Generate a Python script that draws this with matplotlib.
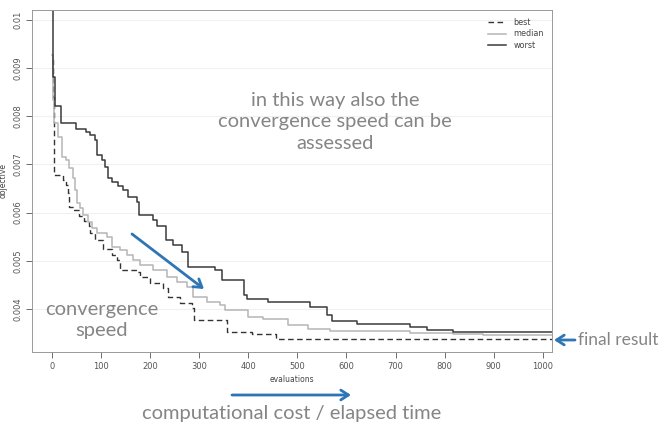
import numpy as np
import matplotlib
matplotlib.use("Agg")
import matplotlib.pyplot as plt
from matplotlib.patches import FancyArrowPatch

# step curves (evaluations, objective)
worst_x = [0, 2, 5, 18, 49, 69, 77, 88, 92, 102, 108, 114, 122, 135, 145, 155, 173, 177,
           206, 214, 232, 247, 265, 277, 332, 346, 391, 397, 440, 526, 561, 571, 622,
           730, 765, 818, 1019]
worst_y = [0.0105, 0.00881, 0.00821, 0.00786, 0.00773, 0.00767, 0.00761, 0.00751, 0.00720,
           0.00709, 0.00695, 0.00672, 0.00664, 0.00655, 0.00647, 0.00632, 0.00622, 0.00595,
           0.00585, 0.00572, 0.00543, 0.00533, 0.00518, 0.00487, 0.00481, 0.00460, 0.00429,
           0.00421, 0.00415, 0.00404, 0.00388, 0.00375, 0.00369, 0.00363, 0.00356, 0.00352,
           0.00352]

median_x = [0, 2, 4, 12, 20, 29, 35, 43, 47, 51, 57, 63, 73, 82, 92, 112, 122, 139, 153,
            165, 179, 206, 234, 255, 275, 287, 316, 342, 352, 399, 430, 481, 522, 567, 730,
            818, 879, 1019]
median_y = [0.00927, 0.00834, 0.00786, 0.00757, 0.00715, 0.00709, 0.00693, 0.00672, 0.00647,
            0.00620, 0.00610, 0.00595, 0.00581, 0.00568, 0.00558, 0.00549, 0.00529, 0.00522,
            0.00512, 0.00502, 0.00491, 0.00481, 0.00466, 0.00456, 0.00446, 0.00425, 0.00415,
            0.00408, 0.00398, 0.00383, 0.00379, 0.00367, 0.00359, 0.00354, 0.00350, 0.00348,
            0.00346, 0.00346]

best_x = [0, 2, 4, 22, 29, 33, 35, 43, 55, 65, 75, 77, 88, 104, 122, 133, 139, 173, 179,
          200, 226, 236, 261, 285, 289, 357, 408, 457, 1019]
best_y = [0.00917, 0.00840, 0.00678, 0.00668, 0.00657, 0.00641, 0.00612, 0.00605, 0.00593,
          0.00583, 0.00572, 0.00558, 0.00543, 0.00524, 0.00512, 0.00502, 0.00481, 0.00477,
          0.00466, 0.00454, 0.00444, 0.00425, 0.00412, 0.00402, 0.00377, 0.00352, 0.00348,
          0.00338, 0.00338]

x_ticks = [0, 100, 200, 300, 400, 500, 600, 700, 800, 900, 1000]
y_ticks = [0.004, 0.005, 0.006, 0.007, 0.008, 0.009, 0.01]
y_ticklabels = ["0.004", "0.005", "0.006", "0.007", "0.008", "0.009", "0.01"]

W, H = 659, 429
blue = "#2E75B6"
note_grey = "#858585"


def fx(px):
    return px / W


def fy(py):
    return 1 - py / H


fig = plt.figure(figsize=(W / 100, H / 100), dpi=100)
ax = fig.add_axes([fx(32), fy(352), fx(552) - fx(32), fy(10) - fy(352)])

for y in y_ticks:
    ax.axhline(y, color="#f0f0f0", lw=0.8, zorder=0)

ax.plot(best_x, best_y, drawstyle="steps-post", color="#333333", lw=1.0,
        ls=(0, (4, 2.5)), label="best")
ax.plot(median_x, median_y, drawstyle="steps-post", color="#b5b5b5", lw=1.1, label="median")
ax.plot(worst_x, worst_y, drawstyle="steps-post", color="#3a3a3a", lw=1.1, label="worst")

ax.set_xlim(-41, 1019)
ax.set_ylim(0.003108, 0.010203)
ax.set_xticks(x_ticks)
ax.set_xticklabels([str(v) for v in x_ticks])
ax.set_yticks(y_ticks)
ax.set_yticklabels(y_ticklabels, rotation=90, va="center")
ax.tick_params(labelsize=6, colors="#555555", length=4, width=0.6, pad=3)
for s in ax.spines.values():
    s.set_color("#999999")
    s.set_linewidth(0.7)

ax.set_xlabel("evaluations", fontsize=5.5, color="#444444", labelpad=3)
ax.set_ylabel("objective", fontsize=5.5, color="#444444")
ax.yaxis.set_label_coords(-0.046, 0.5)

leg = ax.legend(loc="upper right", frameon=False, fontsize=5.8, handlelength=2.3,
                labelspacing=0.3, borderaxespad=0.6, handletextpad=0.9)
for t in leg.get_texts():
    t.set_color("#444444")

# slide annotations
font = "Lato"
fs = 14.5
fig.text(fx(335), fy(122), "in this way also the\nconvergence speed can be\nassessed",
         ha="center", va="center", fontsize=fs, color=note_grey, family=font,
         linespacing=1.3)
fig.text(fx(102), fy(320), "convergence\nspeed", ha="center", va="center",
         fontsize=fs, color=note_grey, family=font, linespacing=1.25)
fig.text(fx(578), fy(340), "final result", ha="left", va="center",
         fontsize=12.5, color=note_grey, family=font)
fig.text(fx(292), fy(413), "computational cost / elapsed time", ha="center", va="center",
         fontsize=fs, color=note_grey, family=font)

arrow = dict(arrowstyle="->,head_length=0.5,head_width=0.32", color=blue, lw=2,
             mutation_scale=11, shrinkA=0, shrinkB=0, transform=fig.transFigure)
fig.add_artist(FancyArrowPatch((fx(132), fy(234)), (fx(204), fy(289)), **arrow))
fig.add_artist(FancyArrowPatch((fx(575), fy(340)), (fx(554), fy(340)), **arrow))
fig.add_artist(FancyArrowPatch((fx(232), fy(395)), (fx(351), fy(395)), **arrow))

fig.savefig("out.png", dpi=100)
